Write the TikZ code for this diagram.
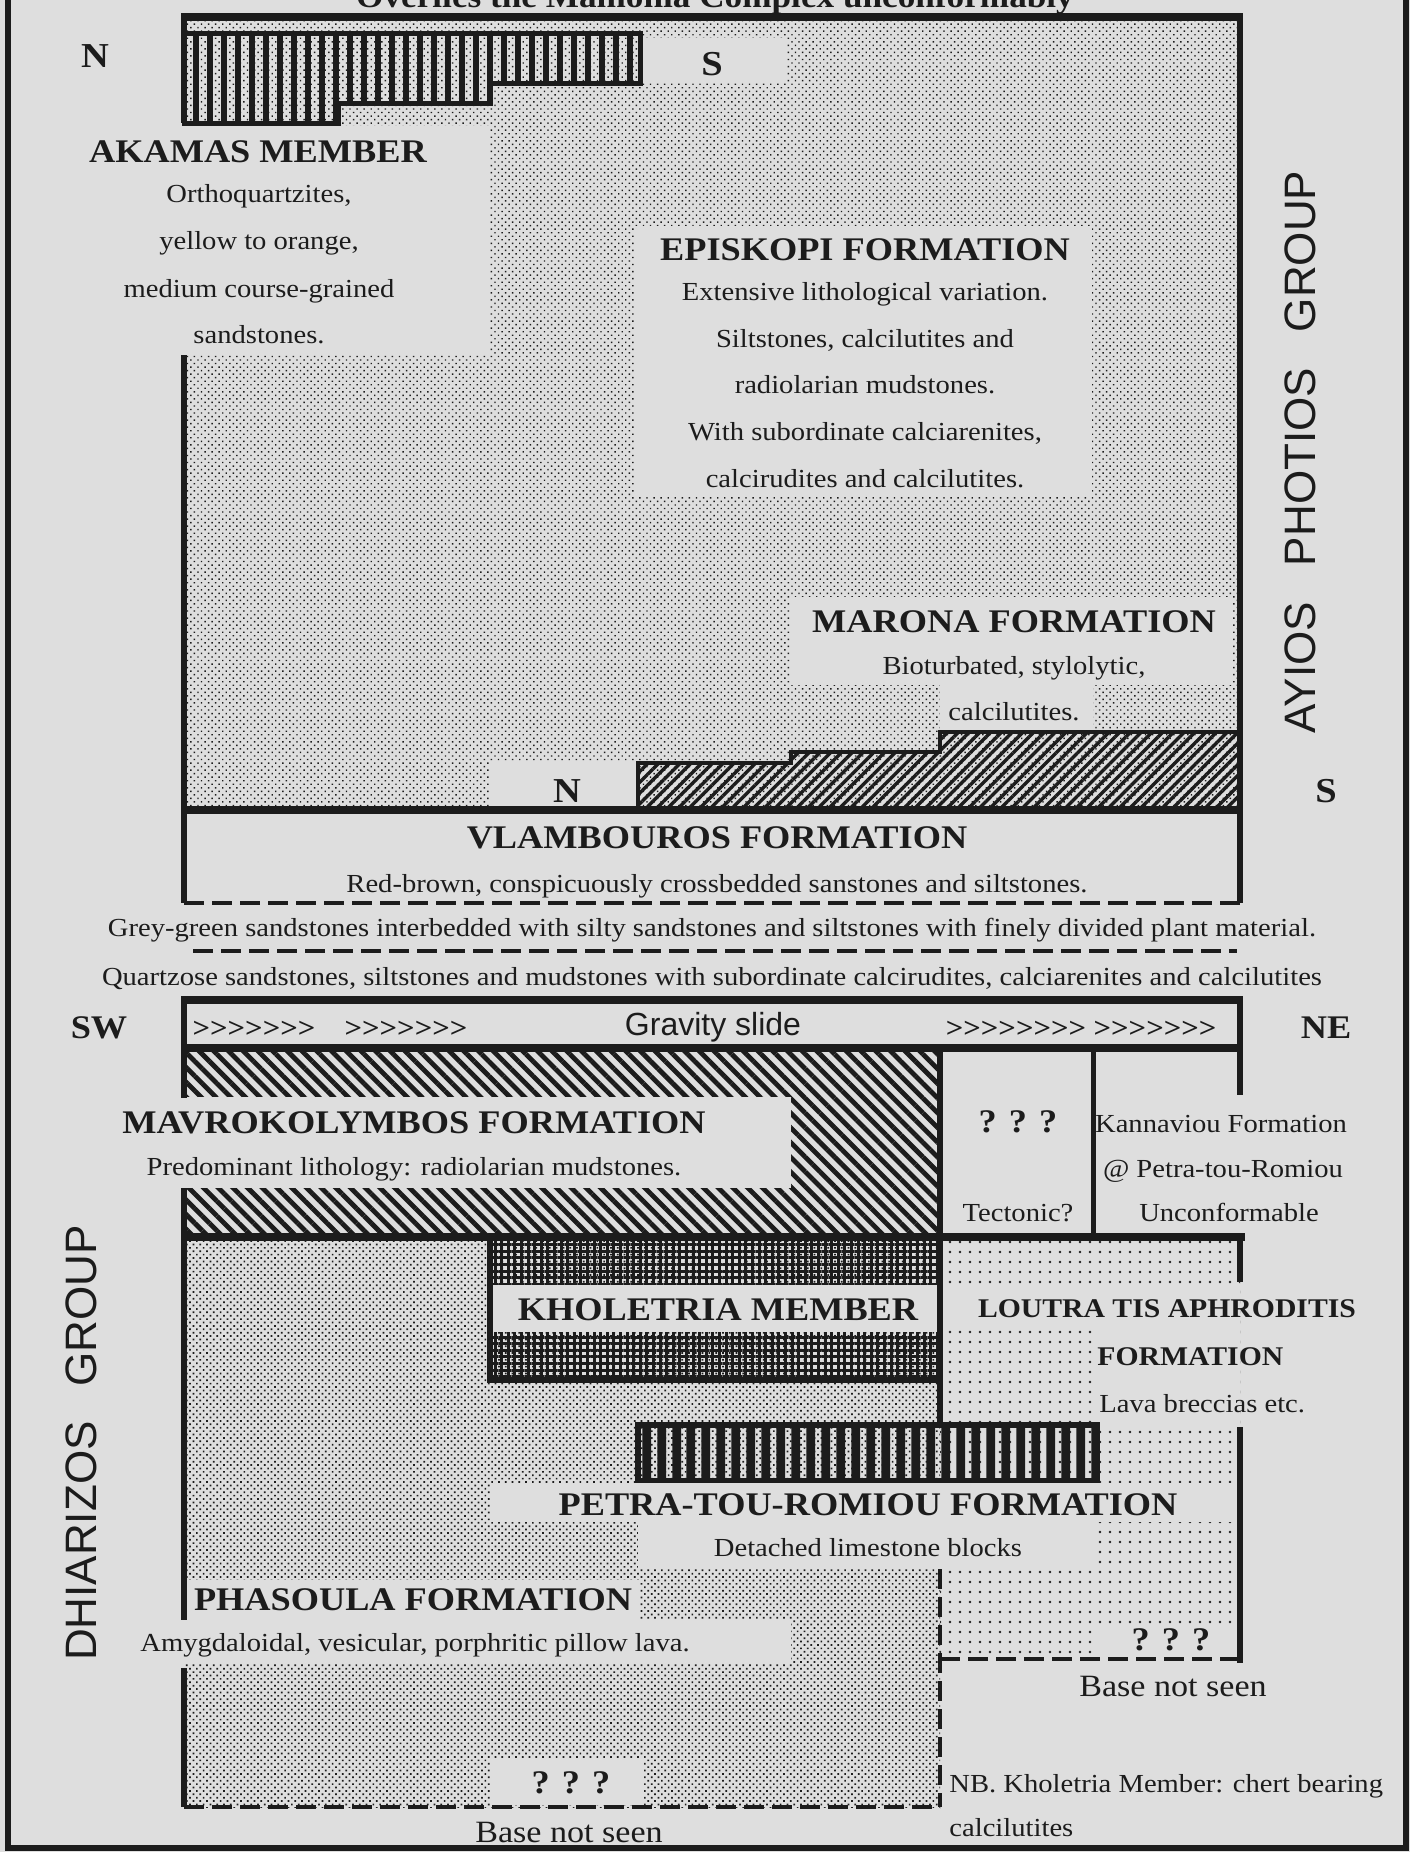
\documentclass[tikz,border=0pt]{standalone}
\usepackage{fontspec}
\setmainfont{Liberation Serif}[FakeStretch=1.1]
\newfontfamily\grpfont{Liberation Sans}
\usetikzlibrary{patterns.meta}
\definecolor{paper}{RGB}{222,222,222}
\definecolor{ink}{RGB}{28,28,28}
\newcommand\chevs[1]{\foreach \k in {1,...,#1}{>}}
\begin{document}
\begin{tikzpicture}[x=0.5pt,y=-0.5pt,
  every node/.style={inner sep=0pt, text=ink},
  body/.style={font=\fontsize{13}{15}\selectfont, anchor=base},
  bodyl/.style={font=\fontsize{13}{15}\selectfont, anchor=base west},
  head/.style={font=\fontsize{16.5}{19}\selectfont\bfseries, anchor=base},
  headsm/.style={font=\fontsize{13.5}{16}\selectfont\bfseries, anchor=base},
  dir/.style={font=\fontsize{17.5}{20}\selectfont\bfseries, anchor=base},
  base/.style={font=\fontsize{15.5}{18}\selectfont, anchor=base},
  chev/.style={font=\fontsize{14}{16}\selectfont\bfseries, anchor=base},
  grp/.style={font=\grpfont\fontsize{22}{24}\selectfont, rotate=90, anchor=center},
  stipA/.style={pattern={Dots[radius=0.5pt,distance=2.5pt,angle=45]}, pattern color=ink},
  stipB/.style={pattern={Dots[radius=0.6pt,distance=2.4pt,angle=45]}, pattern color=ink},
  stipC/.style={pattern={Dots[radius=0.65pt,distance=5pt]}, pattern color=ink},
  vstripeA/.style={pattern={Lines[angle=90,distance=7pt,line width=3.4pt]}, pattern color=ink},
  vstripeP/.style={pattern={Lines[angle=90,distance=7.4pt,line width=4.4pt]}, pattern color=ink},
  hatchNE/.style={pattern={Lines[angle=45,distance=3.8pt,line width=1.7pt]}, pattern color=ink},
  hatchNW/.style={pattern={Lines[angle=-45,distance=5.2pt,line width=2.4pt]}, pattern color=ink},
  checker/.style={pattern={Hatch[angle=0,distance=3.3pt,line width=1.5pt]}, pattern color=ink},
  lw/.style={draw=ink, line width=3pt},
  lwt/.style={draw=ink, line width=3.8pt},
  dashline/.style={draw=ink, line width=2.4pt, dash pattern=on 10pt off 4pt},
]
\useasboundingbox (0,0) rectangle (1410,1852);
\fill[paper] (0,0) rectangle (1410,1852);
\clip (0,0) rectangle (1410,1852);

% outer frame
\draw[lw] (8,-10) -- (8,1848) -- (1406,1848) -- (1406,-10);

% top caption (cut off at the page edge, as in the source)
\node[font=\fontsize{16}{18}\selectfont\bfseries, anchor=base] (overlies) at (715,8) {Overlies the Mamonia Complex unconformably};

% ===== Upper box: Ayios Photios Group =====
\path[stipA] (184,17) rectangle (1240,810);
\path[vstripeA, draw=ink, line width=2.5pt] (184,33) -- (640,33) -- (640,83) -- (490,83) -- (490,103) -- (338,103) -- (338,123) -- (184,123) -- cycle;
\fill[paper] (643,38) rectangle (787,83);
\fill[paper] (150,126) rectangle (490,355);
\fill[paper] (634,226) rectangle (1092,497);
\fill[paper] (791,597) rectangle (1232,685);
\fill[paper] (940,684) rectangle (1093,732);
\fill[paper] (490,762) rectangle (638,808);
\path[hatchNE, draw=ink, line width=2.2pt] (638,810) -- (638,763) -- (791,763) -- (791,752) -- (940,752) -- (940,732) -- (1240,732) -- (1240,810) -- cycle;

\draw[lwt] (181,17) -- (1243,17);
\draw[lw] (184,14) -- (184,123);
\draw[lw] (184,355) -- (184,903);
\draw[lw] (1240,14) -- (1240,903);
\draw[draw=ink, line width=4pt] (182,810) -- (1242,810);
\draw[dashline] (184,903) -- (1240,903);
\draw[dashline] (193,951) -- (1237,951);

\node[dir] (n1) at (95,67) {N};
\node[dir] (s1) at (712,75) {S};
\node[head] (akamas) at (258,162) {AKAMAS MEMBER};
\node[body] (ak1) at (259,202) {Orthoquartzites,};
\node[body] (ak2) at (259,249) {yellow to orange,};
\node[body] (ak3) at (259,297) {medium course-grained};
\node[body] (ak4) at (259,343) {sandstones.};
\node[head] (episkopi) at (865,260) {EPISKOPI FORMATION};
\node[body] (ep1) at (865,300) {Extensive lithological variation.};
\node[body] (ep2) at (865,347) {Siltstones, calcilutites and};
\node[body] (ep3) at (865,393) {radiolarian mudstones.};
\node[body] (ep4) at (865,440) {With subordinate calciarenites,};
\node[body] (ep5) at (865,487) {calcirudites and calcilutites.};
\node[head] (marona) at (1014,632) {MARONA FORMATION};
\node[body] (ma1) at (1014,674) {Bioturbated, stylolytic,};
\node[body] (ma2) at (1014,720) {calcilutites.};
\node[dir] (n2) at (567,802) {N};
\node[dir] (s2) at (1326,802) {S};
\node[grp] (ayios) at (1300,452) {AYIOS\hspace{18pt}PHOTIOS\hspace{18pt}GROUP};

\node[head] (vlamb) at (717,848) {VLAMBOUROS FORMATION};
\node[body] (vl1) at (717,892) {Red-brown, conspicuously crossbedded sanstones and siltstones.};
\node[body] (grey) at (712,936) {Grey-green sandstones interbedded with silty sandstones and siltstones with finely divided plant material.};
\node[body] (quartz) at (712,985) {Quartzose sandstones, siltstones and mudstones with subordinate calcirudites, calciarenites and calcilutites};

% ===== Lower box: Dhiarizos Group =====
\path[hatchNW] (184,1048) rectangle (940,1237);
\fill[paper] (150,1097) rectangle (791,1188);
\path[stipB] (184,1237) rectangle (940,1807);
\path[checker] (490,1237) rectangle (940,1380);
\fill[paper] (492,1285) rectangle (938,1332);
\path[stipC] (940,1237) rectangle (1240,1659);
\fill[paper] (942,1285) rectangle (1240,1330);
\fill[paper] (1093,1330) rectangle (1240,1425);
\path[vstripeP, draw=ink, line width=3pt] (638,1425) rectangle (1097,1481);
\fill[paper] (490,1483) rectangle (1240,1522);
\fill[paper] (638,1522) rectangle (1093,1569);
\fill[paper] (1093,1626) rectangle (1240,1657);
\fill[paper] (150,1580) rectangle (640,1620);
\fill[paper] (135,1620) rectangle (791,1664);
\fill[paper] (490,1758) rectangle (643,1805);

\draw[lwt] (181,1000) -- (1243,1000);
\draw[lwt] (181,1048) -- (1243,1048);
\draw[lw] (184,998) -- (184,1098);
\draw[lw] (1240,998) -- (1240,1095);
\draw[lw] (940,1048) -- (940,1425);
\draw[draw=ink, line width=2.5pt] (1093,1048) -- (1093,1237);
\draw[lwt] (182,1237) -- (1245,1237);
\draw[lw] (490,1237) -- (490,1380) -- (940,1380);
\draw[lw] (184,1188) -- (184,1620);
\draw[lw] (184,1668) -- (184,1807);
\draw[lw] (1240,1237) -- (1240,1282);
\draw[lw] (1240,1427) -- (1240,1663);
\draw[dashline] (184,1807) -- (940,1807);
\draw[dashline] (940,1569) -- (940,1807);
\draw[dashline] (940,1659) -- (1240,1659);

\node[head] (sw) at (99,1038) {SW};
\node[head] (ne) at (1326,1038) {NE};
\node[chev] (c1) at (254,1037) {\chevs{7}};
\node[chev] (c2) at (406,1037) {\chevs{7}};
\node[font=\grpfont\fontsize{16}{18}\selectfont, anchor=base] (gravity) at (713,1035) {Gravity slide};
\node[chev] (c3) at (1016,1037) {\chevs{8}};
\node[chev] (c4) at (1155,1037) {\chevs{7}};

\node[head] (mavro) at (414,1133) {MAVROKOLYMBOS FORMATION};
\node[body] (mv1) at (414,1175) {Predominant lithology: radiolarian mudstones.};
\node[head] (q1) at (1018,1132) {? ? ?};
\node[body] (tect) at (1018,1221) {Tectonic?};
\node[body] (kan1) at (1221,1132) {Kannaviou Formation};
\node[body] (kan2) at (1223,1177) {@ Petra-tou-Romiou};
\node[body] (kan3) at (1229,1221) {Unconformable};

\node[head] (khol) at (718,1320) {KHOLETRIA MEMBER};
\node[headsm] (loutra) at (1167,1317) {LOUTRA TIS APHRODITIS};
\node[headsm, anchor=base west] (loutra2) at (1097,1365) {FORMATION};
\node[bodyl] (lava) at (1099,1412) {Lava breccias etc.};

\node[head] (petra) at (868,1515) {PETRA-TOU-ROMIOU FORMATION};
\node[body] (pt1) at (868,1556) {Detached limestone blocks};
\node[head] (phas) at (413,1610) {PHASOULA FORMATION};
\node[body] (ph1) at (415,1651) {Amygdaloidal, vesicular, porphritic pillow lava.};
\node[head] (q2) at (571,1793) {? ? ?};
\node[head] (q3) at (1171,1650) {? ? ?};
\node[base] (bns1) at (1173,1696) {Base not seen};
\node[base] (bns2) at (569,1842) {Base not seen};
\node[bodyl] (nb1) at (949,1792) {NB. Kholetria Member: chert bearing};
\node[bodyl] (nb2) at (949,1836) {calcilutites};

\node[grp] (dhiar) at (81,1443) {DHIARIZOS\hspace{17.5pt}GROUP};
\end{tikzpicture}
\end{document}
